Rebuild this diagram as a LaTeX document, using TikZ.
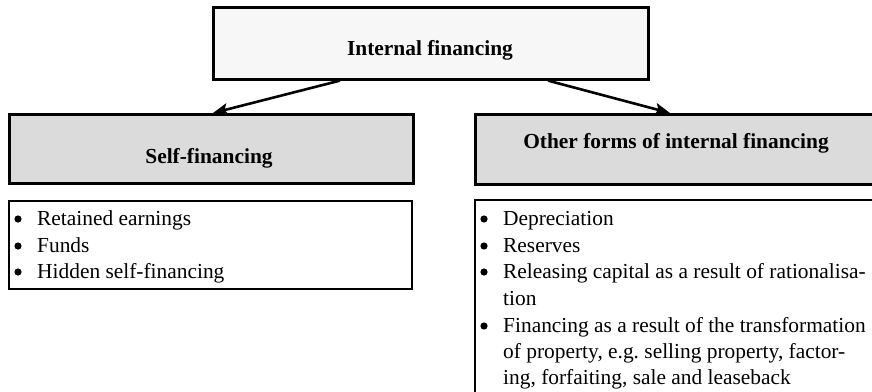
\documentclass[tikz,border=0pt]{standalone}
\usepackage{fontspec}
\setmainfont{Liberation Serif}
\usetikzlibrary{arrows.meta,calc}

\tikzset{
  headbox/.style={draw=black, line width=2.6pt, anchor=north west, inner sep=0pt},
  listbox/.style={draw=black, line width=2.2pt, fill=white, anchor=north west, inner sep=0pt},
  headtext/.style={anchor=base, inner sep=0pt, font=\fontsize{21.4}{26.7}\selectfont\bfseries},
  itemtext/.style={anchor=base west, inner sep=0pt, font=\fontsize{21.4}{26.7}\selectfont\frenchspacing},
  link/.style={line width=2.6pt, -{Stealth[length=15pt,width=12pt,inset=3pt]}}
}
% hanging indent of item text; the bullet itself is drawn as a dot
\newcommand{\bul}{\hspace*{24pt}}
\newcommand{\dotat}[1]{\fill ([shift={(5,-6)}]#1.base west) circle (3.6pt);}

\begin{document}
\begin{tikzpicture}[x=1pt,y=-1pt]
\useasboundingbox (0,0) rectangle (872,391);
\clip (0,0) rectangle (872,391);

% top level
\node[headbox, fill=black!3, minimum width=435pt, minimum height=72pt] (top) at (212,6) {};
\node[headtext] (toptext) at (430,55) {Internal financing};

% second level headings
\node[headbox, fill=black!14, minimum width=404pt, minimum height=69pt] (self) at (8,113) {};
\node[headtext] (selftext) at (209,163) {Self-financing};
\node[headbox, fill=black!14, minimum width=404pt, minimum height=70pt] (other) at (474,113) {};
\node[headtext] (othertext) at (676,148) {Other forms of internal financing};

% connectors
\coordinate (s1) at ($(top.south west)+(128,0)$);
\coordinate (e1) at ($(self.north west)+(205,0)$);
\coordinate (s2) at ($(top.south west)+(336,0)$);
\coordinate (e2) at ($(other.north west)+(196,0)$);
\draw[link] (s1) -- (e1);
\draw[link] (s2) -- (e2);

% lists
\node[listbox, minimum width=403pt, minimum height=88pt] (selflist) at (8,200) {};
\node[itemtext] (l1) at (13,225) {\bul Retained earnings};
\node[itemtext] (l2) at (13,252) {\bul Funds};
\node[itemtext] (l3) at (13,278) {\bul Hidden self-financing};
\dotat{l1} \dotat{l2} \dotat{l3}

\node[listbox, minimum width=404pt, minimum height=220pt] (otherlist) at (474,199) {};
\node[itemtext] (r1) at (479,225) {\bul Depreciation};
\node[itemtext] (r2) at (479,252) {\bul Reserves};
\node[itemtext] (r3) at (479,278) {\bul Releasing capital as a result of rationalisa-};
\node[itemtext] (r4) at (503,305) {tion};
\node[itemtext] (r5) at (479,332) {\bul Financing as a result of the transformation};
\node[itemtext] (r6) at (503,358) {of property, e.g. selling property, factor-};
\node[itemtext] (r7) at (503,384) {ing, forfaiting, sale and leaseback};
\dotat{r1} \dotat{r2} \dotat{r3} \dotat{r5}
\end{tikzpicture}
\end{document}
